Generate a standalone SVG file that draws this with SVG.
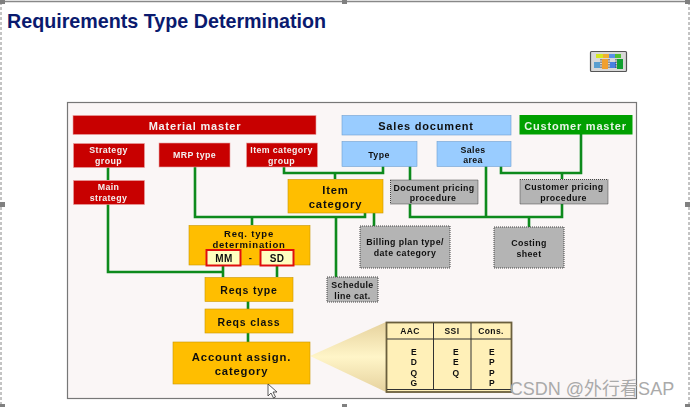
<svg xmlns="http://www.w3.org/2000/svg" width="690" height="407" viewBox="0 0 690 407">
<defs>
<linearGradient id="cone" gradientUnits="userSpaceOnUse" x1="0" y1="322" x2="0" y2="392"><stop offset="0" stop-color="#e6d29e"/><stop offset=".5" stop-color="#fff5c8"/><stop offset="1" stop-color="#e6d29e"/></linearGradient>
<filter id="blur" x="-2%" y="-2%" width="104%" height="104%"><feGaussianBlur stdDeviation="0.35"/></filter>
</defs>
<style>
text{font-family:"Liberation Sans",Arial,sans-serif;font-weight:700;text-anchor:middle;letter-spacing:.4px}
.red{fill:#c80000;stroke:#e8a0a0;stroke-width:.6}
.blue{fill:#99ccff;stroke:#6f9fd0;stroke-width:.6}
.green{fill:#00a000}
.or{fill:#ffbe00;stroke:#c89600;stroke-width:.6}
.gr{fill:#b4b4b4;stroke:#444;stroke-width:1;stroke-dasharray:1 1}
.w{fill:#f4f0f0;font-size:8.800px}
.k{fill:#111;font-size:8.800px}
.o{fill:#111;font-size:11.300px;letter-spacing:.8px}
.sel{fill:none;stroke:#888;stroke-width:1;stroke-dasharray:3 2}
.h{fill:#808080}
.c{fill:none;stroke:#0a8a1e;stroke-width:2.6}
.t{fill:#111;font-size:8.500px}
</style>
<rect width="690" height="407" fill="#fff"/>
<g id="selection">
<path d="M0 1.500H690" stroke="#888" stroke-width="1.500" fill="none"/>
<path class="sel" d="M1 2V405M689 2V405"/>
<rect class="h" x="0" y="0" width="5" height="4"/><rect class="h" x="342" y="0" width="5" height="4"/><rect class="h" x="685" y="0" width="5" height="4"/>
<rect class="h" x="0" y="202" width="5" height="5"/><rect class="h" x="685" y="202" width="5" height="5"/>
<rect class="h" x="0" y="404" width="5" height="3"/><rect class="h" x="342" y="404" width="5" height="3"/><rect class="h" x="685" y="404" width="5" height="3"/>
</g>
<text x="7" y="28" style="text-anchor:start;font-size:19.700px;fill:#0a1a6e;letter-spacing:0">Requirements Type Determination</text>
<g id="icon">
<rect x="590.500" y="51.500" width="36" height="20" rx="1" fill="#d8d8d8" stroke="#555" stroke-width="1.200"/>
<rect x="596" y="54" width="7" height="4" fill="#d4e820"/><rect x="603" y="54" width="6" height="4" fill="#f0b030"/><rect x="609" y="54" width="6" height="4" fill="#5a90e8"/><rect x="615" y="54" width="6" height="4" fill="#50c030"/>
<rect x="594" y="62" width="6" height="6" fill="#5a9fd0"/><rect x="602" y="59" width="6" height="10" fill="#f0a030"/><rect x="610" y="62" width="6" height="6" fill="#4a80e0"/><rect x="617" y="59" width="6" height="10" fill="#10a030"/>
<path d="M601 59V69M609 59V69M616 59V69" stroke="#222" stroke-width=".8" stroke-dasharray="1.500 1" fill="none"/>
</g>
<g filter="url(#blur)">
<rect x="67.500" y="102.500" width="569" height="296" fill="#faf6f6" stroke="#777" stroke-width="1.200"/>
<g id="connectors">
<path class="c" d="M108 167V180M108 204V272H223"/>
<path class="c" d="M195 167V217H365V213M252 217V225M336 217V277M374 213V226"/>
<path class="c" d="M284 167V173H383V166M335 173V179M410 166V180"/>
<path class="c" d="M486 166V217M410 204V217H562V204M529 217V227"/>
<path class="c" d="M501 166V173H581V134M562 173V179"/>
<path class="c" d="M223 265V277M277 265V277M248 301V309M248 333V342"/>
</g>
<g id="material-master"><rect class="red" x="73" y="115.500" width="243" height="19"/><text class="w" x="195" y="130" style="font-size:11px;letter-spacing:.8px">Material master</text></g>
<g id="strategy-group"><rect class="red" x="73.500" y="143.500" width="71" height="24"/><text class="w" x="108.500" y="153.300">Strategy</text><text class="w" x="108.500" y="163.500">group</text></g>
<g id="main-strategy"><rect class="red" x="73.500" y="180.500" width="71" height="24"/><text class="w" x="108.500" y="190">Main</text><text class="w" x="108.500" y="200.500">strategy</text></g>
<g id="mrp-type"><rect class="red" x="159" y="143" width="71" height="24"/><text class="w" x="194.500" y="158">MRP type</text></g>
<g id="item-category-group"><rect class="red" x="246.500" y="143" width="71" height="24"/><text class="w" x="281.500" y="153">Item category</text><text class="w" x="281.500" y="163.500">group</text></g>
<g id="sales-document"><rect class="blue" x="342" y="115.500" width="169" height="19.500"/><text class="k" x="426" y="130" style="font-size:11px;letter-spacing:.8px">Sales document</text></g>
<g id="type"><rect class="blue" x="342" y="141.500" width="75" height="25"/><text class="k" x="379" y="158">Type</text></g>
<g id="sales-area"><rect class="blue" x="437" y="141.500" width="74" height="25"/><text class="k" x="473" y="152.500">Sales</text><text class="k" x="473" y="163">area</text></g>
<g id="customer-master"><rect class="green" x="519.500" y="115" width="113" height="19.500"/><text x="575.500" y="129.500" style="font-size:11px;letter-spacing:.8px;fill:#e8f4e8">Customer master</text></g>
<g id="item-category"><rect class="or" x="288" y="179.500" width="95" height="33.500"/><text class="o" x="335.500" y="193.500">Item</text><text class="o" x="335.500" y="207.500">category</text></g>
<g id="document-pricing"><rect class="gr" x="390.500" y="180" width="87.500" height="24"/><text class="k" x="434" y="190.500">Document pricing</text><text class="k" x="433" y="200.700">procedure</text></g>
<g id="customer-pricing"><rect class="gr" x="520" y="179.500" width="88" height="24.500"/><text class="k" x="564" y="189.500">Customer pricing</text><text class="k" x="563.500" y="200.500">procedure</text></g>
<g id="billing"><rect class="gr" x="360" y="226" width="90" height="42"/><text class="k" x="405" y="245">Billing plan type/</text><text class="k" x="405" y="255.500">date category</text></g>
<g id="costing"><rect class="gr" x="494" y="227" width="70" height="41"/><text class="k" x="529" y="246">Costing</text><text class="k" x="529" y="256.500">sheet</text></g>
<g id="schedule"><rect class="gr" x="327" y="277" width="51" height="25"/><text class="k" x="352.500" y="288">Schedule</text><text class="k" x="352.500" y="298.500">line cat.</text></g>
<g id="req-type-determination"><rect class="or" x="189" y="225.500" width="121" height="39.500"/><text class="k" x="249" y="236.500" style="font-size:9.500px;letter-spacing:.8px">Req. type</text><text class="k" x="249" y="248" style="font-size:9.500px;letter-spacing:.8px">determination</text>
<text class="k" x="250.500" y="261" style="font-size:9.500px">-</text></g>
<g id="mm"><rect x="206.500" y="250" width="34" height="15.500" fill="#ffffc0" stroke="#e01010" stroke-width="2"/><text class="k" x="224" y="261.500" style="font-size:10px">MM</text></g>
<g id="sd"><rect x="260.500" y="250" width="33" height="15.500" fill="#ffffc0" stroke="#e01010" stroke-width="2"/><text class="k" x="277" y="261.500" style="font-size:10px">SD</text></g>
<g id="reqs-type"><rect class="or" x="205" y="277.500" width="88" height="24"/><text class="o" x="249" y="294" style="font-size:10.500px">Reqs type</text></g>
<g id="reqs-class"><rect class="or" x="205" y="309" width="88" height="24"/><text class="o" x="249" y="325.500" style="font-size:10.500px">Reqs class</text></g>
<g id="account"><polygon points="310,356 386,322 386,392" fill="url(#cone)"/><rect class="or" x="173" y="342" width="137" height="42"/><text class="o" x="241.500" y="361">Account assign.</text><text class="o" x="241.500" y="375">category</text></g>
<g id="table">
<rect x="386.500" y="322.500" width="125" height="69.500" fill="#fff0b8" stroke="#6b5f3c" stroke-width="1.800"/>
<path d="M433.500 323V390M471 323V390M387 339H511M387 389.500H511" stroke="#333" stroke-width="1" fill="none"/>
<text class="t" x="410" y="334">AAC</text><text class="t" x="452" y="334">SSI</text><text class="t" x="491" y="334">Cons.</text>
<text class="t" x="414" y="354.500">E</text><text class="t" x="414" y="365">D</text><text class="t" x="414" y="375.500">Q</text><text class="t" x="414" y="385.500">G</text>
<text class="t" x="456" y="354.500">E</text><text class="t" x="456" y="365">E</text><text class="t" x="456" y="375.500">Q</text>
<text class="t" x="492" y="354.500">E</text><text class="t" x="492" y="365">P</text><text class="t" x="492" y="375.500">P</text><text class="t" x="492" y="385.500">P</text>
</g>
</g>
<g id="cursor"><path d="M268 384V396L271 393L273.500 398L275.500 397L273 392H277Z" fill="#fff" stroke="#333" stroke-width=".8"/></g>
<text x="592" y="395" style="font-family:'Liberation Sans','Noto Sans CJK SC',sans-serif;font-weight:400;font-size:18px;letter-spacing:0;fill:#aaa">CSDN @外行看SAP</text>
</svg>
